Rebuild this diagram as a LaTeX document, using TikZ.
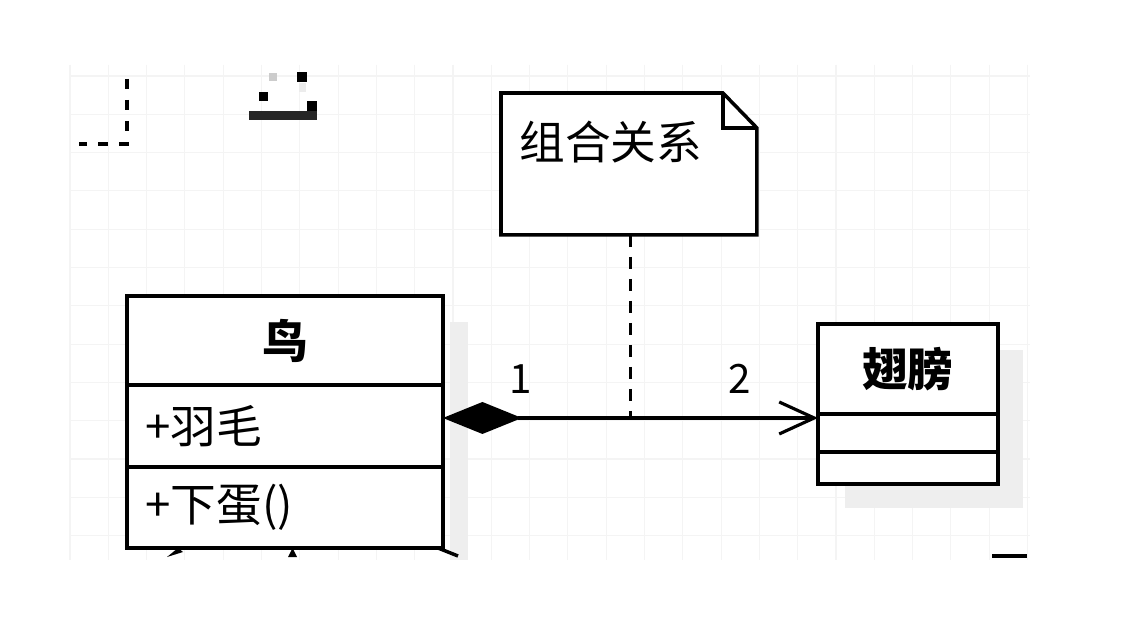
\documentclass[tikz,border=0pt]{standalone}
\usepackage{fontspec}
\setmainfont{Noto Sans CJK SC}
\usetikzlibrary{arrows.meta}

\tikzset{
    umlline/.style={line width=2pt},
    classpart/.style={draw, line width=2pt, fill=white, inner sep=0pt, outer sep=0pt, anchor=north west},
    classtitle/.style={classpart, font=\bfseries\fontsize{26}{30}\selectfont},
    membertext/.style={anchor=west, inner sep=0pt, font=\fontsize{26}{30}\selectfont},
    multtext/.style={inner sep=0pt, font=\fontsize{23}{26}\selectfont},
    gridline/.style={gray!9, line width=0.6pt},
    shadowbox/.style={fill=gray!13, draw=none},
    notelink/.style={line width=1.7pt, dash pattern=on 0.24cm off 0.2cm},
    compose/.style={line width=1.8pt, {Diamond[length=1.58cm,width=0.64cm]}-{Straight Barb[length=0.7cm,width=0.64cm]}}
}

\begin{document}
\begin{tikzpicture}[x=0.02cm, y=-0.02cm]
    \useasboundingbox[fill=white] (0,0) rectangle (1147,618);

    % Draw the grid
    \foreach \gx in {0,...,25}
        \draw[gridline] ({70+38.3*\gx},65) -- ({70+38.3*\gx},560);
    \foreach \gy in {1,...,13}
        \draw[gridline] (70,{37.7+38.3*\gy}) -- (1030,{37.7+38.3*\gy});

    % Cut-off pieces at the top
    \draw[umlline, dash pattern=on 0.2cm off 0.22cm] (127,79) -- (127,144) -- (79,144);
    \fill[gray!40] (269,73) rectangle (277,81);
    \fill[black] (297,72) rectangle (307,82);
    \fill[black] (259,92) rectangle (268,101);
    \fill[gray!15] (299,83) rectangle (306,92);
    \fill[black!85] (249,111) rectangle (317,120);
    \fill[black] (307,101) rectangle (317,111);

    % Shadows
    \fill[shadowbox] (450,322) rectangle (468,560);
    \fill[shadowbox] (845,350) rectangle (1023,508);

    % Class: bird
    \node[classtitle, minimum width=6.32cm, minimum height=1.78cm] (bird) at (127,296) {鸟};
    \node[classpart, minimum width=6.32cm, minimum height=1.64cm] (feather) at (bird.south west) {};
    \node[classpart, minimum width=6.32cm, minimum height=1.62cm] (layegg) at (feather.south west) {};
    \node[membertext] (feathertext) at ([xshift=0.36cm]feather.west) {+羽毛};
    \node[membertext] (layeggtext) at ([xshift=0.36cm]layegg.west) {+下蛋()};

    % Class: wing
    \node[classtitle, minimum width=3.6cm, minimum height=1.8cm] (wing) at (818,324) {翅膀};
    \node[classpart, minimum width=3.6cm, minimum height=0.76cm] (wingattr) at (wing.south west) {};
    \node[classpart, minimum width=3.6cm, minimum height=0.64cm] (wingop) at (wingattr.south west) {};

    % Note
    \node[minimum width=5.12cm, minimum height=2.84cm, inner sep=0pt, outer sep=0pt, anchor=north west] (note) at (501,93) {};
    \draw[umlline, fill=white] (note.north west) -- ([xshift=-0.68cm]note.north east)
        -- ([yshift=-0.7cm]note.north east) -- (note.south east) -- (note.south west) -- cycle;
    \draw[umlline] ([xshift=-0.68cm]note.north east) -- ([xshift=-0.68cm,yshift=-0.7cm]note.north east)
        -- ([yshift=-0.7cm]note.north east);
    \node[membertext] (notetext) at (519,142) {组合关系};

    % Composition
    \coordinate (wingport) at ([yshift=-0.08cm]wing.south west);
    \coordinate (linkpoint) at ([xshift=0.04cm]note.south |- wingport);
    \draw[notelink] ([xshift=0.04cm]note.south) -- (linkpoint);
    \draw[compose] (feather.east |- wingport) -- (wingport);
    \node[multtext] (multone) at (521,379) {1};
    \node[multtext] (multtwo) at (740,379) {2};

    % Cut-off arrow tips below
    \fill[black] (167,557) -- (178,548) -- (183,552) -- cycle;
    \fill[black] (288,557) -- (292.5,548) -- (297,557) -- cycle;
    \draw[umlline] (438,548) -- (458,556);
    \draw[umlline] (992,556) -- (1027,556);
\end{tikzpicture}
\end{document}
